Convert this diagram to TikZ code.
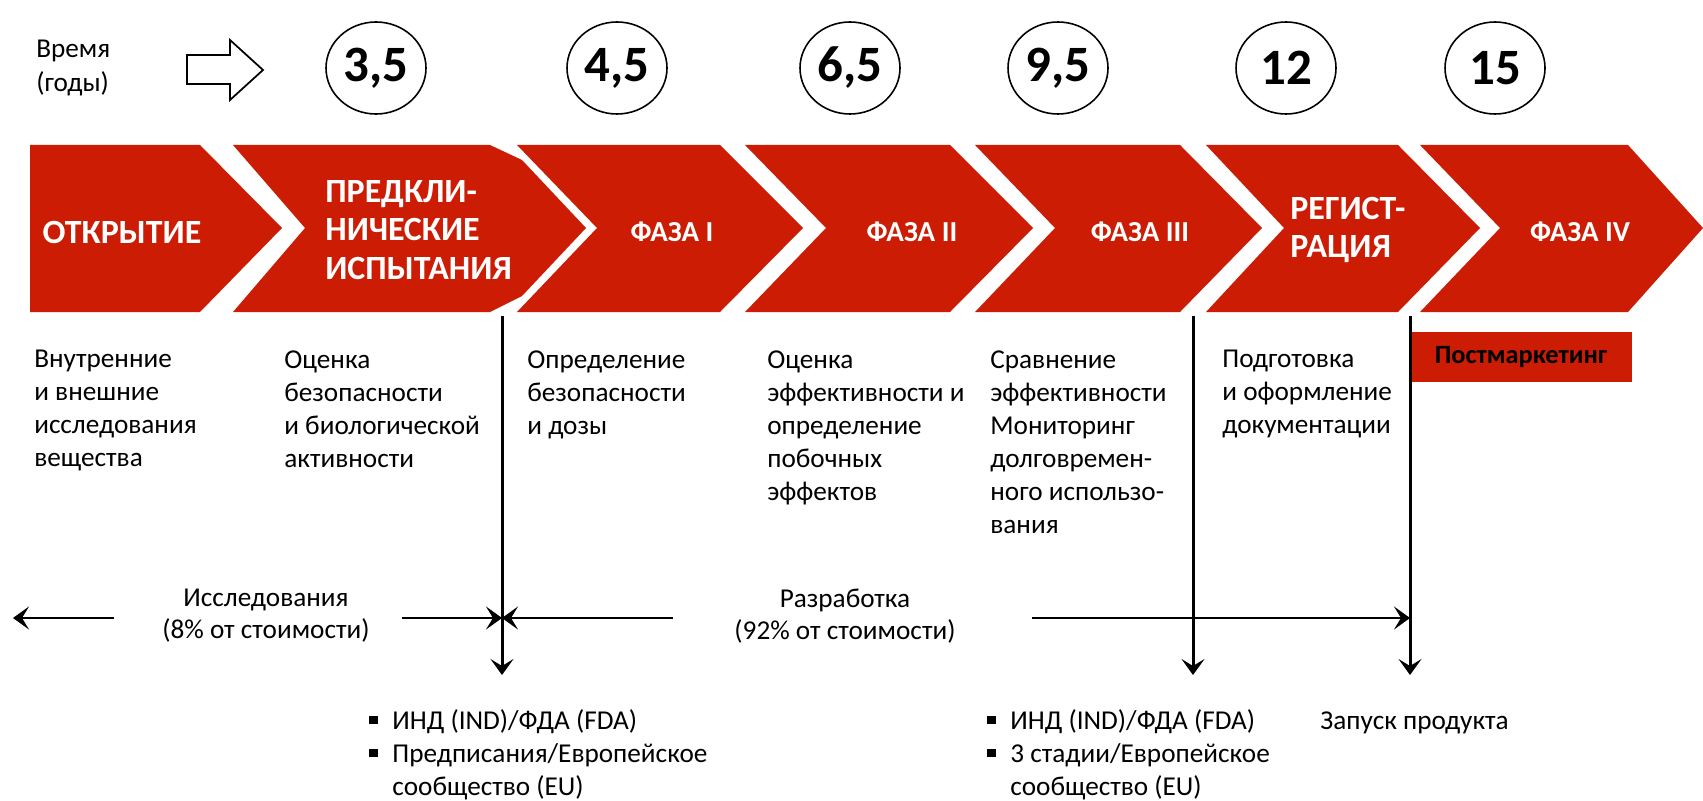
\documentclass[tikz,border=0pt]{standalone}
\usepackage{fontspec}
\setmainfont{Carlito}
\usetikzlibrary{positioning, shapes.geometric, arrows.meta}
\definecolor{phasered}{RGB}{204,28,4}
\newcommand{\sqbullet}{\raisebox{0.2em}{\rule{0.3em}{0.3em}}}
\tikzset{
  arrow/.style={line width=1.7pt, -{Stealth[length=3.2mm, width=4.6mm, inset=1.4mm]}}}

\begin{document}
\begin{tikzpicture}[
		x=0.2mm, y=-0.2mm,
		chev/.style={fill=phasered},
		phase/.style={
			text=white,
			inner sep=0pt,
			align=left,
			font=\fontsize{16.5}{20}\selectfont\bfseries
		},
		bigphase/.style={
			phase,
			font=\fontsize{19.3}{22}\selectfont\bfseries
		},
		year/.style={
			draw,
			ellipse,
			line width=0.9pt,
			minimum width=20mm,
			minimum height=18.4mm,
			inner sep=0pt,
			font=\fontsize{29}{32}\selectfont\bfseries
		},
		desc/.style={
			anchor=north west,
			align=left,
			inner sep=0pt,
			font=\fontsize{15.5}{18.8}\selectfont
		},
		cost/.style={
			align=center,
			inner sep=0pt,
			font=\fontsize{15.5}{18.2}\selectfont
		}
		]
		\useasboundingbox (0,0) rectangle (1703,801);
		
		% time axis
		\node[desc, anchor=west] (time) at (36,68) {Время\\(годы)};
		\draw[line width=0.35mm] (187,55) -- (230,55) -- (230,40) -- (263,70) -- (230,100) -- (230,84) -- (187,84) -- cycle;
		
		\node[year] (y35) at (376,68) {3,5};
		\node[year] (y45) at (617,68) {4,5};
		\node[year] (y65) at (850,68) {6,5};
		\node[year] (y95) at (1058,68) {9,5};
		\node[year] (y12) at (1286,68) {12};
		\node[year] (y15) at (1495,68) {15};
		
		% chevrons
		\fill[chev] (30,145) -- (200,145) -- (282,228) -- (200,312) -- (30,312) -- cycle;
		\fill[chev] (233,145) -- (490,145) -- (522,160) -- (586,228) -- (522,296) -- (490,312) -- (233,312) -- (305,228) -- cycle;
		\fill[chev] (517,145) -- (720,145) -- (803,228) -- (720,312) -- (517,312) -- (597,228) -- cycle;
		\fill[chev] (745,145) -- (950,145) -- (1033,228) -- (950,312) -- (745,312) -- (826,228) -- cycle;
		\fill[chev] (975,145) -- (1180,145) -- (1262,228) -- (1180,312) -- (975,312) -- (1055,228) -- cycle;
		\fill[chev] (1206,145) -- (1398,145) -- (1480,228) -- (1398,312) -- (1206,312) -- (1284,228) -- cycle;
		\fill[chev] (1420,145) -- (1628,145) -- (1703,228) -- (1628,312) -- (1420,312) -- (1500,228) -- cycle;
		
		\node[bigphase] (disc) at (122,232) {ОТКРЫТИЕ};
		\node[bigphase, anchor=west] (precl) at (325,230) {ПРЕДКЛИ-\\НИЧЕСКИЕ\\ИСПЫТАНИЯ};
		\node[phase] (ph1) at (672,232) {ФАЗА I};
		\node[phase] (ph2) at (912,232) {ФАЗА II};
		\node[phase] (ph3) at (1140,232) {ФАЗА III};
		\node[bigphase, anchor=west] (reg) at (1290,230) {РЕГИСТ-\\РАЦИЯ};
		\node[phase] (ph4) at (1580,232) {ФАЗА IV};
		
		% descriptions
		\node[desc] (d0) at (34,350) {Внутренние\\и внешние\\исследования\\вещества};
		\node[desc] (d1) at (284,350) {Оценка\\безопасности\\и биологической\\активности};
		\node[desc] (d2) at (527,350) {Определение\\безопасности\\и дозы};
		\node[desc] (d3) at (767,350) {Оценка\\эффективности и\\определение\\побочных\\эффектов};
		\node[desc] (d4) at (990,350) {Сравнение\\эффективности\\Мониторинг\\долговремен-\\ного использо-\\вания};
		\node[desc] (d5) at (1222,350) {Подготовка\\и оформление\\документации};
		\node[fill=phasered, minimum width=44.4mm, minimum height=10mm, inner sep=0pt,
			font=\fontsize{15}{17}\selectfont\bfseries] (post) at (1521,357) {Постмаркетинг};
		
		% milestones
		\coordinate (m1top) at (502,316);
		\coordinate (m1end) at (502,675);
		\coordinate (m2top) at (1193,316);
		\coordinate (m2end) at (1193,675);
		\coordinate (m3top) at (1410,316);
		\coordinate (m3end) at (1410,675);
		\draw[arrow] (m1top) -- (m1end);
		\draw[arrow] (m2top) -- (m2end);
		\draw[arrow] (m3top) -- (m3end);
		
		% cost split
		\node[cost] (res) at (266,616) {Исследования\\(8\% от стоимости)};
		\node[cost] (dev) at (845,616) {Разработка\\(92\% от стоимости)};
		
		\coordinate (resL) at (114,618);
		\coordinate (resEnd) at (13,618);
		\coordinate (resR) at (402,618);
		\coordinate (devL) at (673,618);
		\coordinate (devR) at (1032,618);
		\coordinate (cross1) at (502,618);
		\coordinate (cross3) at (1410,618);
		
		\draw[arrow] (resL) -- (resEnd);
		\draw[arrow] (resR) -- (cross1);
		\draw[arrow] (devL) -- (cross1);
		\draw[arrow] (devR) -- (cross3);
		
		% outcomes
		\node[desc] (out1) at (369,709) {\makebox[4.6mm][l]{\sqbullet}ИНД (IND)/ФДА (FDA)\\
			\makebox[4.6mm][l]{\sqbullet}Предписания/Европейское\\
			\hspace*{4.6mm}сообщество (EU)};
		\node[desc] (out2) at (987,709) {\makebox[4.6mm][l]{\sqbullet}ИНД (IND)/ФДА (FDA)\\
			\makebox[4.6mm][l]{\sqbullet}3 стадии/Европейское\\
			\hspace*{4.6mm}сообщество (EU)};
		\node[desc] (launch) at (1320,711) {Запуск продукта};
		
	\end{tikzpicture}
\end{document}
